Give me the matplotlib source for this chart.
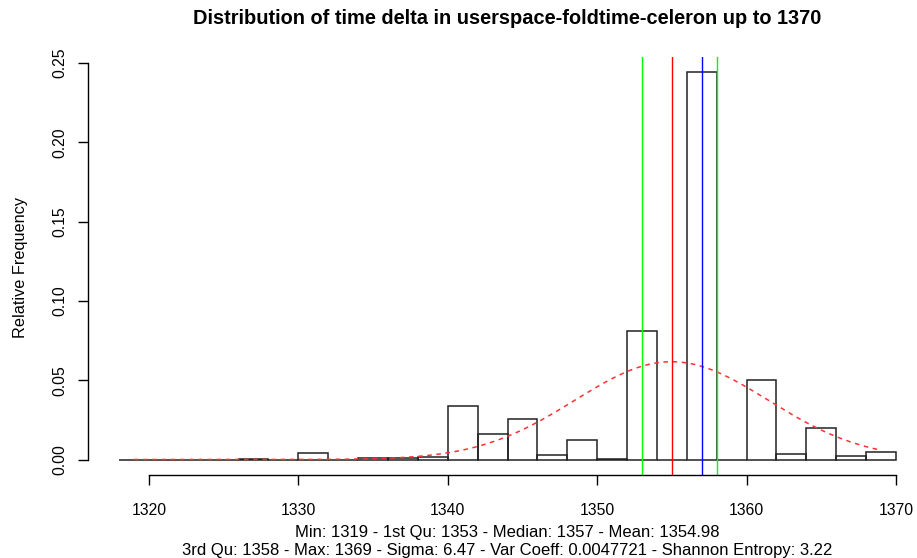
import numpy as np
import matplotlib
matplotlib.use("Agg")
import matplotlib.pyplot as plt

plt.rcParams['font.family'] = ['Liberation Sans', 'DejaVu Sans']

# Histogram data (density, bin width 2)
bin_edges = list(range(1318, 1371, 2))
densities = [0.0, 0.0, 0.0, 0.0, 0.0005, 0.0, 0.004, 0.0, 0.001, 0.0009,
             0.0017, 0.034, 0.0158, 0.0257, 0.0027, 0.0124, 0.0006, 0.081,
             0.0, 0.244, 0.0, 0.050, 0.0036, 0.0196, 0.0025, 0.0046]

stat_min, stat_q1, stat_median, stat_mean = 1319, 1353, 1357, 1354.98
stat_q3, stat_max, stat_sigma = 1358, 1369, 6.47
var_coeff, entropy = 0.0047721, 3.22

x_ticks = [1320, 1330, 1340, 1350, 1360, 1370]
y_ticks = [0.00, 0.05, 0.10, 0.15, 0.20, 0.25]

title = "Distribution of time delta in userspace-foldtime-celeron up to 1370"
sub1 = "Min: 1319 - 1st Qu: 1353 - Median: 1357 - Mean: 1354.98"
sub2 = "3rd Qu: 1358 - Max: 1369 - Sigma: 6.47 - Var Coeff: 0.0047721 - Shannon Entropy: 3.22"

W, H = 917, 558
fig = plt.figure(figsize=(W / 100, H / 100), dpi=100)
left, right, top, bottom = 88, 927, 57, 475
ax = fig.add_axes([left / W, (H - bottom) / H, (right - left) / W, (bottom - top) / H])

edges = np.array(bin_edges)
ax.bar(edges[:-1], densities, width=2, align='edge', fill=False,
       edgecolor='#222222', linewidth=1.1)

xs = np.linspace(stat_min, stat_max, 300)
ys = np.exp(-0.5 * ((xs - stat_mean) / stat_sigma) ** 2) / (stat_sigma * np.sqrt(2 * np.pi))
ax.plot(xs, ys, color='#ff3030', linestyle=(0, (3, 3)), linewidth=1.1)

for v, c in [(stat_q1, '#00ff00'), (stat_mean, '#ff0000'), (stat_median, '#0000ff'), (stat_q3, '#00ff00')]:
    ax.axvline(v, color=c, linewidth=1.0)

xr = edges[-1] - edges[0]
ax.set_xlim(edges[0] - 0.04 * xr, edges[-1] + 0.04 * xr)
ymax = max(densities)
ax.set_ylim(-0.04 * ymax, ymax * 1.04)

for s in ['top', 'right']:
    ax.spines[s].set_visible(False)
ax.spines['left'].set_bounds(0, 0.25)
ax.spines['bottom'].set_bounds(1320, 1370)
ax.spines['left'].set_linewidth(1.0)
ax.spines['bottom'].set_linewidth(1.0)

ax.set_xticks(x_ticks)
ax.set_xticklabels([str(t) for t in x_ticks])
ax.set_yticks(y_ticks)
ax.set_yticklabels([f"{t:.2f}" for t in y_ticks], rotation=90, va='center')
ax.tick_params(axis='both', length=7, width=1.0, labelsize=11.3, direction='out')
ax.tick_params(axis='x', pad=13)
ax.tick_params(axis='y', pad=8)

fig.text(21 / W, 1 - 267 / H, "Relative Frequency", rotation=90, ha='center', va='center', fontsize=11.7)
fig.text(507 / W, 1 - 18 / H, title, ha='center', va='center', fontsize=14.4, fontweight='bold')
fig.text(507 / W, 1 - 533 / H, sub1, ha='center', va='center', fontsize=12)
fig.text(507 / W, 1 - 550 / H, sub2, ha='center', va='center', fontsize=12)

fig.savefig("out.png", dpi=100)
